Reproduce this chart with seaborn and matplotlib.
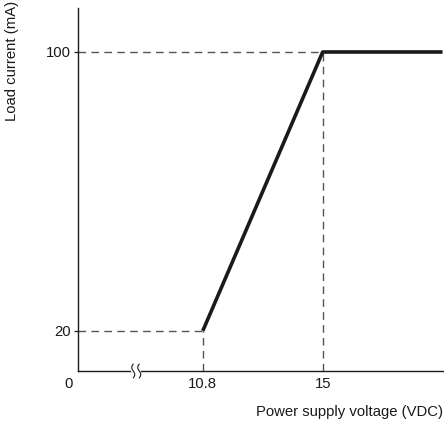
import numpy as np
import pandas as pd
import matplotlib.pyplot as plt
import seaborn as sns

# supply voltage (VDC) vs allowed load current (mA)
voltage = [10.8, 15.0, 19.2]
current = [20, 100, 100]

x_ticks = [10.8, 15.0]
x_labels = ["10.8", "15"]
y_ticks = [20, 100]

df = pd.DataFrame({"voltage": voltage, "current": current})

sns.set_style("ticks")
plt.rcParams["font.family"] = ["Liberation Sans", "DejaVu Sans"]

fig = plt.figure(figsize=(4.44, 4.24), dpi=100)
ax = fig.add_axes([0.1757, 0.125, 0.8243, 0.856])

sns.lineplot(data=df, x="voltage", y="current", ax=ax, color="#1a1a1a", linewidth=2.6,
             solid_capstyle="butt", zorder=3)

xmin, xmax = 6.43, 19.25
ymin, ymax = 8.5, 112.6
ax.set_xlim(xmin, xmax)
ax.set_ylim(ymin, ymax)

# guide lines
dash = dict(color="#555555", linewidth=1.0, linestyle=(0, (5.5, 3.8)), zorder=2)
for vx, cy in zip(voltage[:2], current[:2]):
    ax.plot([xmin, vx], [cy, cy], **dash)
    ax.plot([vx, vx], [ymin, cy], **dash)

ax.set_xticks(x_ticks)
ax.set_xticklabels(x_labels)
ax.set_yticks(y_ticks)
ax.tick_params(axis="x", length=0, pad=4, labelsize=10.7, colors="#1a1a1a")
ax.tick_params(axis="y", length=3, width=0.9, pad=2, labelsize=10.7, colors="#1a1a1a")
ax.annotate("0", xy=(0, 0), xycoords="axes fraction", xytext=(-7, -4),
            textcoords="offset points", ha="center", va="top", fontsize=10.7,
            color="#1a1a1a")

for s in ["top", "right"]:
    ax.spines[s].set_visible(False)
for s in ["left", "bottom"]:
    ax.spines[s].set_color("#1a1a1a")
    ax.spines[s].set_linewidth(1.0)

ax.set_xlabel("")
ax.set_ylabel("")
fig.text(0.998, 0.028, "Power supply voltage (VDC)", ha="right", va="center",
         fontsize=10.7, color="#1a1a1a")
fig.text(0.027, 0.998, "Load current (mA)", ha="center", va="top", rotation=90,
         fontsize=10.7, color="#1a1a1a")

# axis break marks (pixel offsets around the break point)
bx = 8.47
fig.canvas.draw()
px, py = ax.transData.transform((bx, ymin))
ax.plot([px - 3, px + 3], [py, py], color="white", linewidth=3, transform=None,
        clip_on=False, zorder=4)
t = np.linspace(-1, 1, 30)
for off in (-3.0, 3.0):
    ax.plot(px + off - 1.5 * np.sin(t * np.pi), py + t * 7, color="#1a1a1a",
            linewidth=0.8, transform=None, clip_on=False, zorder=5)

fig.savefig("out.png", dpi=100)
